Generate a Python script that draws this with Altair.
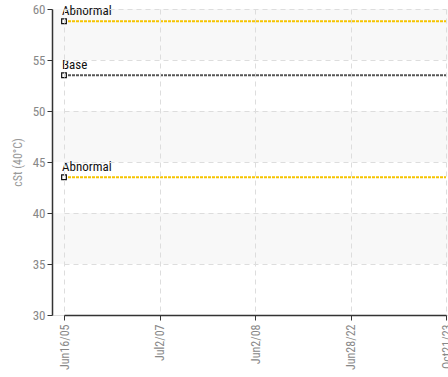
import altair as alt
import pandas as pd

categories = ["Jun16/05", "Jul2/07", "Jun2/08", "Jun28/22", "Oct21/23"]
abnormal_high = [58.8, 58.8, 58.8, 58.8, 58.8]
base = [53.5, 53.5, 53.5, 53.5, 53.5]
abnormal_low = [43.5, 43.5, 43.5, 43.5, 43.5]
band_lo = [35, 45, 55]
band_hi = [40, 50, 60]

FONT = "Roboto Condensed, DejaVu Sans Condensed, Liberation Sans Narrow, Roboto, sans-serif"
W, H = 396, 306

rows = []
for name, key, vals in [("Abnormal", "hi", abnormal_high), ("Base", "base", base), ("Abnormal", "lo", abnormal_low)]:
    for c, v in zip(categories, vals):
        rows.append({"cat": c, "value": v, "label": name, "key": key})
df = pd.DataFrame(rows)
first = df[df["cat"] == categories[0]]

bands = pd.DataFrame({"lo": band_lo, "hi": band_hi})

xscale = alt.Scale(type="point", range=[12, 394], padding=0)
xenc = alt.X("cat:O", sort=categories, scale=xscale,
             axis=alt.Axis(title=None, labelAngle=-90, labelColor="#888", labelFontSize=12,
                           labelFont=FONT, domainColor="#333", domainWidth=1.5, tickColor="#333",
                           tickSize=5, grid=True, gridColor="#ddd", gridDash=[5, 4], labelPadding=4,
                           zindex=1))
yscale = alt.Scale(domain=[30, 60], nice=False, zero=False)
yaxis = alt.Axis(title="cSt (40°C)", titleColor="#999", titleFont=FONT, titleFontSize=12,
                 titleFontWeight="normal", values=[30, 35, 40, 45, 50, 55, 60],
                 labelColor="#888", labelFontSize=13, labelFont=FONT, domainColor="#333",
                 domainWidth=1.5, tickColor="#333", tickSize=5, grid=True, gridColor="#ddd",
                 gridDash=[5, 4], titlePadding=8, zindex=1)

band_layer = alt.Chart(bands).mark_rect(color="#f8f8f8").encode(
    x=alt.value(0), x2=alt.value(W),
    y=alt.Y("lo:Q", scale=yscale, axis=yaxis), y2="hi:Q")

color_scale = alt.Scale(domain=["hi", "base", "lo"], range=["#f5c400", "#555555", "#f5c400"])

lines = alt.Chart(df).mark_line(strokeWidth=2, strokeDash=[3, 1]).encode(
    x=xenc,
    y=alt.Y("value:Q", scale=yscale, axis=yaxis),
    color=alt.Color("key:N", scale=color_scale, legend=None),
    detail="key:N")

points = alt.Chart(first).mark_point(shape="square", filled=True, fill="white", stroke="#111",
                                     strokeWidth=1.2, size=22, opacity=1).encode(
    x=alt.X("cat:O", sort=categories, scale=xscale), y=alt.Y("value:Q", scale=yscale))

labels = alt.Chart(first).mark_text(align="left", baseline="bottom", dx=-2, dy=-3,
                                    font=FONT, fontSize=13, color="#111").encode(
    x=alt.X("cat:O", sort=categories, scale=xscale), y=alt.Y("value:Q", scale=yscale), text="label:N")

chart = alt.layer(band_layer, lines, points, labels).properties(
    width=W, height=H, autosize=alt.AutoSizeParams(type="none"),
    padding={"left": 52, "top": 9, "right": 0, "bottom": 62}
).configure_view(stroke=None).configure(background="white")

chart.save("out.html", embed_options={"renderer": "svg", "actions": False})
